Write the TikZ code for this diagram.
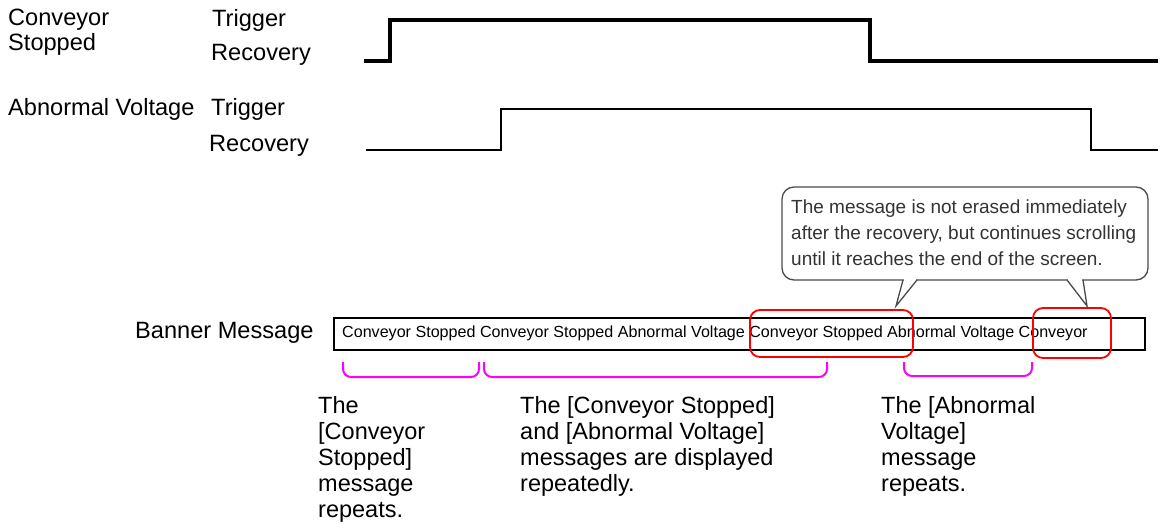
\documentclass[tikz,border=0pt]{standalone}
\usepackage{fontspec}
\setmainfont{Liberation Sans}
\definecolor{brmag}{HTML}{FF00FF}
\definecolor{hlred}{HTML}{FF0000}
\definecolor{notegray}{HTML}{4A4A4A}
\definecolor{notetext}{HTML}{333333}
\tikzset{
  lbl/.style={font=\fontsize{23.6}{25}\selectfont, inner sep=0pt, anchor=base west},
  btxt/.style={font=\fontsize{23.5}{26}\selectfont, inner sep=0pt, anchor=north west, align=left},
  wavea/.style={line width=3.2pt, line join=miter, line cap=butt},
  waveb/.style={line width=2.6pt, line join=miter, line cap=butt},
  hlbox/.style={draw=hlred, line width=1.8pt, rounded corners=10pt},
  brace/.style={draw=brmag, line width=2pt, rounded corners=8pt},
  notebox/.style={draw=notegray, line width=1.3pt, fill=white},
}
\begin{document}
\begin{tikzpicture}[x=1pt,y=-1pt]
\useasboundingbox (0,0) rectangle (1166,524);
% signal labels
\node[lbl, align=left, anchor=north west] (cs) at (8,9) {Conveyor\\Stopped};
\node[lbl] (trig1) at (212,27) {Trigger};
\node[lbl] (rec1) at (211,61) {Recovery};
\node[lbl] (av) at (8,116) {Abnormal Voltage};
\node[lbl] (trig2) at (211,116) {Trigger};
\node[lbl] (rec2) at (209,151) {Recovery};
% waveforms
\draw[wavea] (364,61) -- (390,61) -- (390,20) -- (870,20) -- (870,61) -- (1158,61);
\draw[waveb] (366,150) -- (501,150) -- (501,109) -- (1091,109) -- (1091,150) -- (1158,150);
% banner
\node[lbl] (bm) at (135,338) {Banner Message};
\node[draw, line width=2pt, minimum width=811pt, minimum height=32pt, inner sep=0pt, anchor=north west] (banner) at (333,317) {};
\node[font=\fontsize{16.1}{19}\selectfont, inner sep=0pt, anchor=base west] (btext) at (342,337)
  {Conveyor Stopped Conveyor Stopped Abnormal Voltage Conveyor Stopped Abnormal Voltage Conveyor};
% highlight boxes
\draw[hlbox] (750,310) rectangle (913,357);
\draw[hlbox] (1033,308) rectangle (1111,358);
% callout
\draw[notebox, rounded corners=12pt] (782,187) rectangle (1148,280);
\fill[white] (904,277.5) rectangle (916,282.5);
\fill[white] (1068,277.5) rectangle (1082,282.5);
\draw[notegray, line width=1.3pt, line join=miter] (903,280) -- (896,306) -- (917,280);
\draw[notegray, line width=1.3pt, line join=miter] (1067,280) -- (1087,306) -- (1083,280);
\node[font=\fontsize{19}{26}\selectfont, text=notetext, align=left, inner sep=0pt, anchor=north west] (note) at (791,199.5)
  {The message is not erased immediately\\after the recovery, but continues scrolling\\until it reaches the end of the screen.};
% braces
\draw[brace] (343,362) -- (343,377) -- (479,377) -- (479,362);
\draw[brace] (484,362) -- (484,377) -- (827,377) -- (827,362);
\draw[brace] (904,362) -- (904,376) -- (1032,376) -- (1032,362);
% explanations
\node[btxt] (t1) at (318,396) {The\\{[}Conveyor\\Stopped{]}\\message\\repeats.};
\node[btxt] (t2) at (520,396) {The {[}Conveyor Stopped{]}\\and {[}Abnormal Voltage{]}\\messages are displayed\\repeatedly.};
\node[btxt] (t3) at (881,396) {The {[}Abnormal\\Voltage{]}\\message\\repeats.};
\end{tikzpicture}
\end{document}
